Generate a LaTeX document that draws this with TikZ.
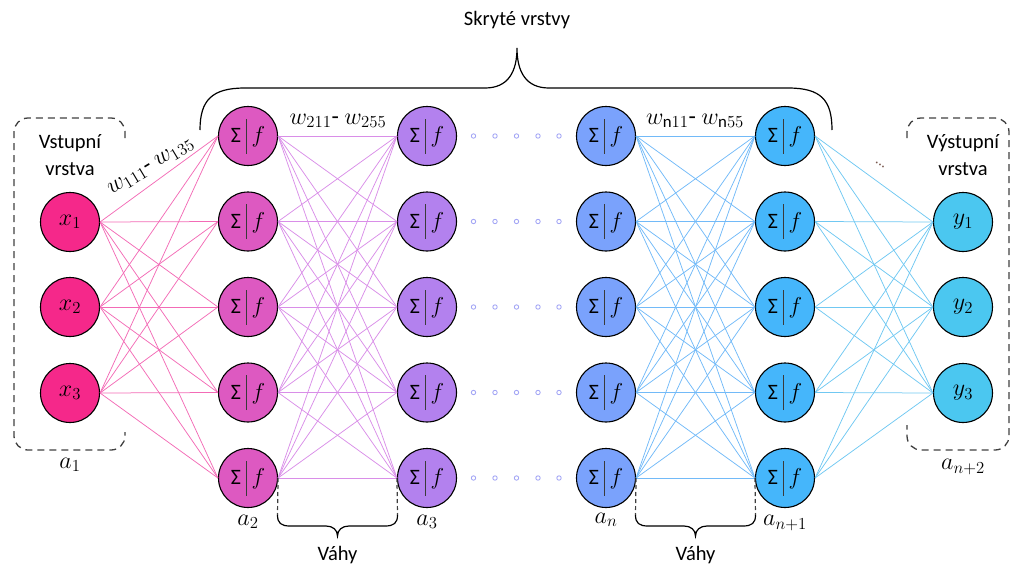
\documentclass[tikz,border=0pt]{standalone}
\usepackage{fix-cm}
\usepackage{fontspec}
\setmainfont{Carlito}
\definecolor{cin}{HTML}{F5288A}
\definecolor{ca}{HTML}{DD59C1}
\definecolor{cb}{HTML}{B381EE}
\definecolor{cc}{HTML}{7AA2FC}
\definecolor{cd}{HTML}{45B6FB}
\definecolor{cout}{HTML}{4BC7F0}
\definecolor{ein}{HTML}{F36BB6}
\definecolor{eab}{HTML}{D98EE8}
\definecolor{ecd}{HTML}{72BAF8}
\definecolor{eout}{HTML}{70C8F2}
\definecolor{dotc}{HTML}{A3A6F5}
\definecolor{dashc}{HTML}{404040}
\definecolor{barc}{HTML}{3A3A3A}
\definecolor{brownc}{HTML}{7A5A50}
\newcommand{\SumAct}{{\fontsize{22}{24}\selectfont Σ}\hspace{5pt}{\color{barc}\rule[-11pt]{0.7pt}{35pt}}\hspace{5pt}{\fontsize{23}{24}\selectfont$f$}}
\begin{document}
\begin{tikzpicture}[x=1pt,y=-1pt,
  neuron/.style={circle,draw=black,line width=1.1pt,minimum size=59pt,inner sep=0pt,font=\fontsize{24}{26}\selectfont},
  txt/.style={font=\fontsize{20.5}{24}\selectfont,inner sep=0pt},
  mlbl/.style={font=\fontsize{24}{26}\selectfont,inner sep=0pt},
  edge/.style={line width=0.75pt},
  bracketdash/.style={draw=dashc,line width=1.3pt,dash pattern=on 7pt off 5pt,rounded corners=14pt},
  brace/.style={draw=black,line width=1.2pt},
  vdash/.style={draw=dashc,line width=1.2pt,dash pattern=on 4pt off 3pt}]
\useasboundingbox (0,0) rectangle (1010,568);

% input layer
\node[neuron,fill=cin] (x1) at (70,222) {$x_1$};
\node[neuron,fill=cin] (x2) at (70,307) {$x_2$};
\node[neuron,fill=cin] (x3) at (70,393) {$x_3$};
% output layer
\node[neuron,fill=cout] (y1) at (963,222) {$y_1$};
\node[neuron,fill=cout] (y2) at (963,307) {$y_2$};
\node[neuron,fill=cout] (y3) at (963,393) {$y_3$};
% hidden layers
\foreach \c/\x/\col in {1/248/ca,2/427/cb,3/606/cc,4/785/cd}{
  \foreach \r/\y in {1/136,2/221.5,3/307,4/392.5,5/478}{
    \node[neuron,fill=\col] (h\c\r) at (\x,\y) {\SumAct};
  }
}
% connections
\foreach \i in {1,2,3}{\foreach \j in {1,...,5}{\draw[edge,ein] (x\i.east) -- (h1\j.west);}}
\foreach \i in {1,...,5}{\foreach \j in {1,...,5}{\draw[edge,eab] (h1\i.east) -- (h2\j.west);}}
\foreach \i in {1,...,5}{\foreach \j in {1,...,5}{\draw[edge,ecd] (h3\i.east) -- (h4\j.west);}}
\foreach \i in {1,...,5}{\foreach \j in {1,2,3}{\draw[edge,eout] (h4\i.east) -- (y\j.west);}}
% dots between layers
\foreach \y in {136,221.5,307,392.5,478}{
  \foreach \xx in {473.5,495,516.5,538,559}{
    \draw[dotc,line width=0.9pt] (\xx,\y) circle (2.2pt);
  }
}
% input / output brackets
\draw[bracketdash] (125,138) -- (125,118) -- (14,118) -- (14,450) -- (125,450) -- (125,432);
\draw[bracketdash] (907,138) -- (907,118) -- (1009,118) -- (1009,450) -- (907,450) -- (907,425);
\node[txt] (tin1) at (70,143) {Vstupní};
\node[txt] (tin2) at (70,169) {vrstva};
\node[txt] (tout1) at (963,143) {Výstupní};
\node[txt] (tout2) at (963,169) {vrstva};
% layer labels
\node[mlbl] (a1) at (70,465) {$a_1$};
\node[mlbl] (a2) at (248,522) {$a_2$};
\node[mlbl] (a3) at (427,522) {$a_3$};
\node[mlbl] (an) at (606,520) {$a_n$};
\node[mlbl] (an1) at (785,523) {$a_{n+1}$};
\node[mlbl] (an2) at (963,467) {$a_{n+2}$};
% weight labels
\node[mlbl,rotate=31] (w1) at (151,167) {$w_{111}$- $w_{135}$};
\node[mlbl] (w2) at (338,121) {$w_{211}$- $w_{255}$};
\node[mlbl] (wn) at (695,121) {$w_{\mathrm{n}11}$- $w_{\mathrm{n}55}$};
\node[rotate=-36,text=brownc,font=\fontsize{15}{15}\selectfont,inner sep=0pt] (dd) at (880,165) {...};
% top brace
\draw[brace] (200,130) .. controls (200,100) and (212,88) .. (245,88) -- (485,88) .. controls (508,88) and (517,72) .. (517,48)
  .. controls (517,72) and (526,88) .. (549,88) -- (788,88) .. controls (821,88) and (832,100) .. (832,130);
\node[txt] (hid) at (517,20) {Skryté vrstvy};
% bottom braces
\draw[vdash] (h15.east) -- (277.5,515);
\draw[vdash] (h25.west) -- (397.5,515);
\draw[brace] (277.5,515) .. controls (277.5,523) and (281,526) .. (290,526) -- (326,526) .. controls (333,526) and (337.5,530) .. (337.5,536)
  .. controls (337.5,530) and (342,526) .. (349,526) -- (385,526) .. controls (394,526) and (397.5,523) .. (397.5,515);
\node[txt] (v1) at (337.5,555) {Váhy};
\draw[vdash] (h35.east) -- (635.5,515);
\draw[vdash] (h45.west) -- (755.5,515);
\draw[brace] (635.5,515) .. controls (635.5,523) and (639,526) .. (648,526) -- (684,526) .. controls (691,526) and (695.5,530) .. (695.5,536)
  .. controls (695.5,530) and (700,526) .. (707,526) -- (743,526) .. controls (752,526) and (755.5,523) .. (755.5,515);
\node[txt] (v2) at (695.5,555) {Váhy};
\end{tikzpicture}
\end{document}
